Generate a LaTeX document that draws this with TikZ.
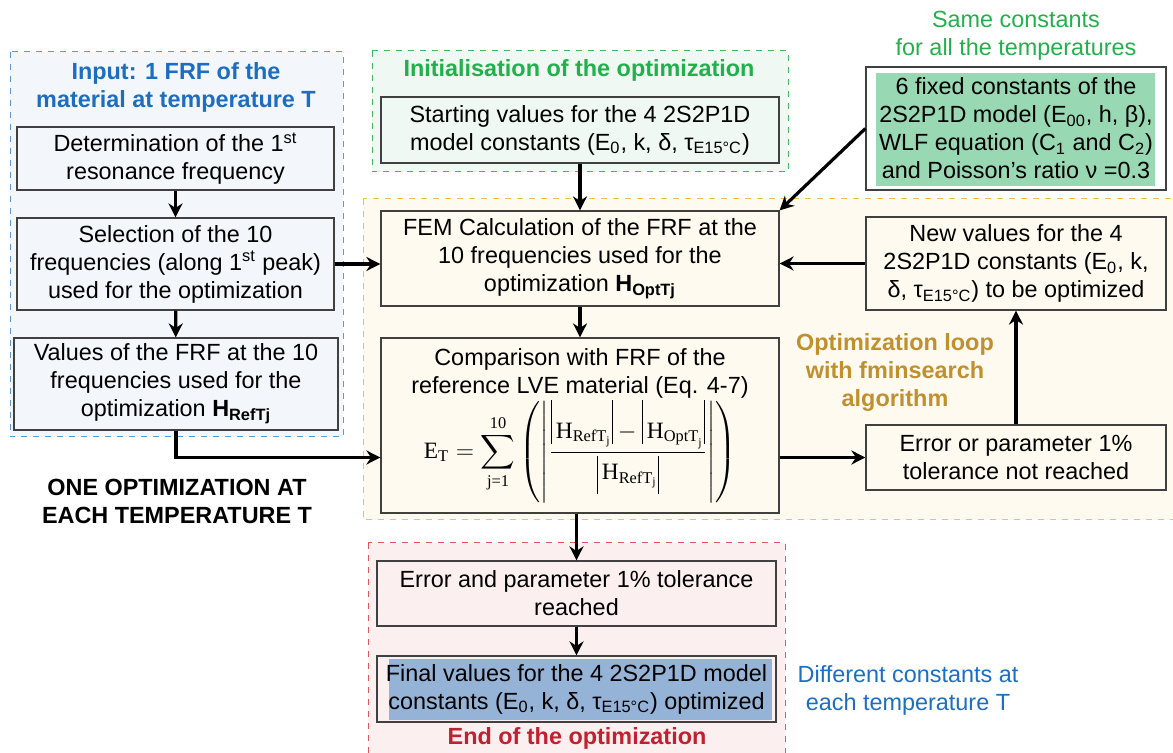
\documentclass[tikz,border=0pt]{standalone}
\usepackage{amsmath}
\usepackage{fontspec}
\setmainfont{Liberation Sans}
\newfontfamily\eqfont{Liberation Serif}
\usetikzlibrary{arrows.meta}

\definecolor{inblue}{HTML}{F3F7FB}
\definecolor{inline}{HTML}{5B9BD5}
\definecolor{ingreen}{HTML}{EFF8F2}
\definecolor{greenline}{HTML}{3DBA5E}
\definecolor{loopfill}{HTML}{FEFAF0}
\definecolor{loopline}{HTML}{F2C24F}
\definecolor{endfill}{HTML}{FBEFEF}
\definecolor{endline}{HTML}{E0585A}
\definecolor{titleblue}{HTML}{1C6EC0}
\definecolor{titlegreen}{HTML}{22B04C}
\definecolor{titlegold}{HTML}{C0902F}
\definecolor{titlered}{HTML}{C0202F}
\definecolor{fixgreen}{HTML}{98D8B3}
\definecolor{finalblue}{HTML}{95B3D7}

\newcommand{\er}[1]{\textnormal{\eqfont #1}}
\newcommand{\tauE}{τ\textsubscript{E15°C}}
\newcommand{\nbar}{\rule[-3pt]{0.5pt}{22pt}}
\newcommand{\dbar}{\rule[-7pt]{0.5pt}{19pt}}

\tikzset{
  box/.style={draw=black!75, line width=0.6pt, align=center, inner sep=1pt,
    font=\fontsize{11.7}{14}\selectfont},
  zone/.style={dashed, line width=0.5pt},
  title/.style={align=center, font=\fontsize{11.7}{14}\selectfont\bfseries},
  note/.style={align=center, font=\fontsize{11.7}{14}\selectfont},
  arr/.style={-{Stealth[length=7pt,width=7pt]}, line width=1.6pt}
}

\begin{document}
\begin{tikzpicture}[x=0.5pt,y=-0.5pt]
  \useasboundingbox (0,0) rectangle (1173,753);

  % Zones
  \draw[zone, draw=inline, fill=inblue] (10,52) rectangle (343,437);
  \draw[zone, draw=greenline, fill=ingreen] (372,51) rectangle (788,172);
  \draw[zone, draw=loopline, fill=loopfill] (363,199) rectangle (1190,520);
  \draw[zone, draw=endline, fill=endfill] (368,543) rectangle (785,770);

  % Zone titles
  \node[title, text=titleblue] (intitle) at (176,87) {Input: 1 FRF of the\\material at temperature T};
  \node[title, text=titlegreen] (inittitle) at (579,70) {Initialisation of the optimization};
  \node[title, text=titlegold] (looptitle) at (895,373) {Optimization loop\\with fminsearch\\algorithm};
  \node[title, text=titlered] (endtitle) at (577,738) {End of the optimization};
  \node[title] (onetitle) at (177,501) {ONE OPTIMIZATION AT\\EACH TEMPERATURE T};
  \node[note, text=titlegreen] (same) at (1016,36) {Same constants\\for all the temperatures};
  \node[note, text=titleblue] (diff) at (908,690) {Different constants at\\each temperature T};

  % Input boxes
  \node[box, minimum width=158.5pt, minimum height=31.5pt] (det) at (175.5,158.5)
    {Determination of the 1\textsuperscript{st}\\resonance frequency};
  \node[box, minimum width=158.5pt, minimum height=46pt] (sel) at (175.5,264)
    {Selection of the 10\\frequencies (along 1\textsuperscript{st} peak)\\used for the optimization};
  \node[box, minimum width=162pt, minimum height=46pt] (vals) at (176,384)
    {Values of the FRF at the 10\\frequencies used for the\\optimization \textbf{H\textsubscript{RefTj}}};

  % Initialisation
  \node[box, minimum width=199pt, minimum height=33pt] (start) at (580,130)
    {Starting values for the 4 2S2P1D\\model constants (E\textsubscript{0}, k, δ, \tauE)};

  % Loop boxes
  \node[box, minimum width=199pt, minimum height=47.5pt] (fem) at (580,258.5)
    {FEM Calculation of the FRF at the\\10 frequencies used for the\\optimization \textbf{H\textsubscript{OptTj}}};
  \node[box, minimum width=199pt, minimum height=87.5pt] (comp) at (580,425.5)
    {Comparison with FRF of the\\reference LVE material (Eq. 4-7)\\[0pt]
     $\displaystyle \er{E}_{\er{T}} = \sum_{\er{j=1}}^{\er{10}}\left(\left|\frac{\nbar\,\er{H}_{\er{RefT}_{\er{j}}}\nbar - \nbar\,\er{H}_{\er{OptT}_{\er{j}}}\nbar}{\dbar\,\er{H}_{\er{RefT}_{\er{j}}}\dbar}\right|\right)$};
  \node[box, minimum width=150pt, minimum height=46.5pt] (newval) at (1016,263.5)
    {New values for the 4\\2S2P1D constants (E\textsubscript{0}, k,\\δ, \tauE) to be optimized};
  \node[box, minimum width=150pt, minimum height=32.5pt] (errnot) at (1016,457.5)
    {Error or parameter 1\%\\tolerance not reached};

  % Fixed constants
  \fill[fixgreen] (876,73) rectangle (1155,186);
  \node[box, minimum width=150pt, minimum height=61.5pt] (fixed) at (1016,128.5)
    {6 fixed constants of the\\2S2P1D model (E\textsubscript{00}, h, β),\\WLF equation (C\textsubscript{1} and C\textsubscript{2})\\and Poisson’s ratio ν =0.3};

  % End boxes
  \node[box, minimum width=199.5pt, minimum height=32.5pt] (errand) at (576.5,593.5)
    {Error and parameter 1\% tolerance\\reached};
  \fill[finalblue] (389,659) rectangle (772,720);
  \node[box, minimum width=199.5pt, minimum height=33pt] (final) at (576.5,689)
    {Final values for the 4 2S2P1D model\\constants (E\textsubscript{0}, k, δ, \tauE) optimized};

  % Arrows
  \draw[arr] (det) -- (sel);
  \draw[arr] (sel) -- (vals);
  \draw[arr] (sel.east) -- (sel.east -| fem.west);
  \draw[arr] (vals.south) |- (comp.west |- errnot);
  \draw[arr] (start) -- (fem);
  \draw[arr] (fem) -- (comp);
  \draw[arr] (comp.east |- errnot) -- (errnot.west);
  \draw[arr] (errnot) -- (newval);
  \draw[arr] (newval.west) -- (newval.west -| fem.east);
  \draw[arr] (fixed.west) -- (fem.north east);
  \draw[arr] (comp.south -| errand) -- (errand);
  \draw[arr] (errand) -- (final);
\end{tikzpicture}
\end{document}
